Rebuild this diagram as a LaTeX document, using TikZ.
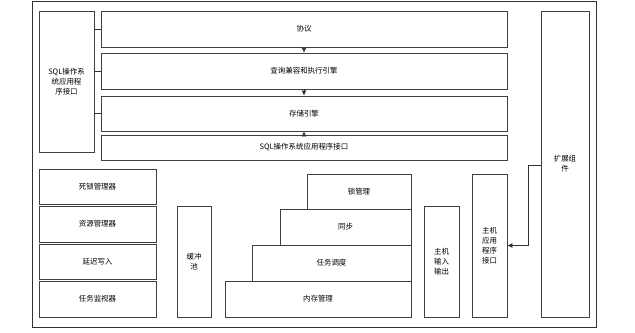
\documentclass[tikz,border=0pt]{standalone}
\usepackage{fontspec}
\newfontfamily\cjk{Noto Sans CJK SC}
\usetikzlibrary{arrows, arrows.meta, positioning}
\tikzset{
    block/.style = {rectangle, draw=black!75, line width=0.8pt, fill=white, inner sep=1pt, text centered, align=center, font=\cjk\fontsize{7.5}{10}\selectfont},
    link/.style = {draw=black!80, line width=0.7pt},
    arrow/.style = {link, -{Latex[length=5bp, width=5bp]}}
}
\begin{document}
\begin{tikzpicture}[x=1bp, y=-1bp]
    \useasboundingbox (0,0) rectangle (635,332);
    \draw[draw=black!80, line width=0.7pt] (32,1) rectangle (596,327);

    % upper part
    \node[block, minimum width=55bp, minimum height=141bp] (sqlapi) at (66.5,81.5) {SQL操作系\\统应用程\\序接口};
    \node[block, minimum width=406bp, minimum height=36bp] (proto) at (304,29) {协议};
    \node[block, minimum width=406bp, minimum height=36bp] (query) at (304,71) {查询兼容和执行引擎};
    \node[block, minimum width=406bp, minimum height=35bp] (storage) at (304,113.5) {存储引擎};
    \node[block, minimum width=406bp, minimum height=25bp] (sqliface) at (304,147.5) {SQL操作系统应用程序接口};
    \node[block, minimum width=48bp, minimum height=306bp] (ext) at (565,164) {扩展组\\件};

    % lower part
    \node[block, minimum width=117bp, minimum height=35bp] (deadlock) at (97.5,186.5) {死锁管理器};
    \node[block, minimum width=117bp, minimum height=36bp] (resource) at (97.5,224) {资源管理器};
    \node[block, minimum width=117bp, minimum height=35bp] (lazywrite) at (97.5,261.5) {延迟写入};
    \node[block, minimum width=117bp, minimum height=36bp] (monitor) at (97.5,299) {任务监视器};
    \node[block, minimum width=34bp, minimum height=111bp] (buffer) at (194,261.5) {缓冲\\池};
    \node[block, minimum width=186bp, minimum height=36bp] (memory) at (318,299) {内存管理};
    \node[block, minimum width=159bp, minimum height=36bp] (sched) at (331.5,263) {任务调度};
    \node[block, minimum width=131bp, minimum height=36bp] (sync) at (345.5,227) {同步};
    \node[block, minimum width=104bp, minimum height=35bp] (lock) at (359,191.5) {锁管理};
    \node[block, minimum width=35bp, minimum height=111bp] (hostio) at (441.5,261.5) {主机\\输入\\输出};
    \node[block, minimum width=35bp, minimum height=143bp] (hostapi) at (489.5,245.5) {主机\\应用\\程序\\接口};

    % connectors
    \draw[link] (sqlapi.east |- proto.west) -- (proto.west);
    \draw[link] (sqlapi.east |- query.west) -- (query.west);
    \draw[link] (sqlapi.east |- storage.west) -- (storage.west);
    \draw[arrow] (proto.south) -- (query.north);
    \draw[arrow] (query.south) -- (storage.north);
    \draw[arrow] (sqliface.north) -- (storage.south);
    \draw[arrow] ([yshift=-1bp]ext.west) -- ++(-12,0) |- (hostapi.east);
\end{tikzpicture}
\end{document}
